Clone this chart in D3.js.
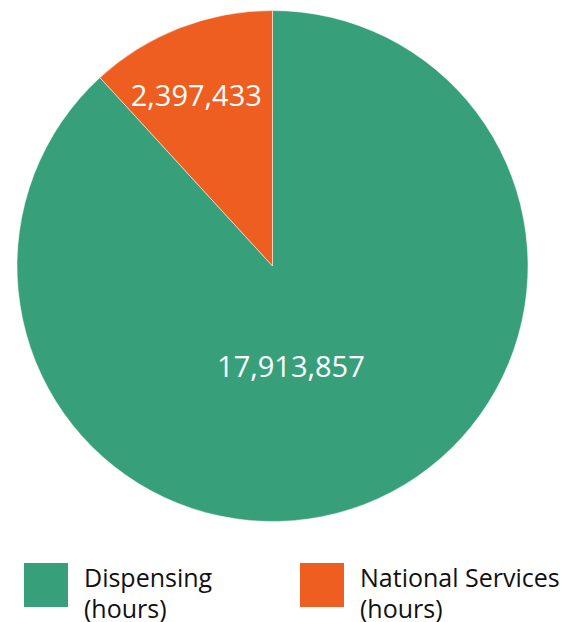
<!DOCTYPE html>
<html>
<head>
<meta charset="utf-8">
<script src="https://cdn.jsdelivr.net/npm/d3@7"></script>
<style>
  body { margin: 0; background: #fff; }
  svg text { font-family: "Open Sans", sans-serif; }
</style>
</head>
<body>
<script>
var categories = ["Dispensing", "National Services"];
var values = [17913857, 2397433];
var legendLines = [["Dispensing", "(hours)"], ["National Services", "(hours)"]];
var colors = ["#389f7b", "#ee5e21"];

var width = 574, height = 622;
var cx = 272.5, cy = 266, radius = 255.5;

var svg = d3.select("body").append("svg")
    .attr("width", width)
    .attr("height", height);

var pie = d3.pie().sort(null).value(d => d)(values);
var arc = d3.arc().innerRadius(0).outerRadius(radius);

var g = svg.append("g").attr("transform", `translate(${cx},${cy})`);

g.selectAll("path")
    .data(pie)
    .enter().append("path")
    .attr("d", arc)
    .attr("fill", (d, i) => colors[i])
    .attr("stroke", "#fff")
    .attr("stroke-width", 0.5);

// label placement (radius fraction and angle nudge per slice)
var labelR = [0.4, 0.73];
var labelNudge = [0.19, -0.05];

g.selectAll("text.val")
    .data(pie)
    .enter().append("text")
    .attr("class", "val")
    .attr("transform", (d, i) => {
        var a = (d.startAngle + d.endAngle) / 2 + labelNudge[i];
        var r = radius * labelR[i];
        return `translate(${r * Math.sin(a)},${-r * Math.cos(a)})`;
    })
    .attr("text-anchor", "middle")
    .attr("dy", "0.35em")
    .attr("fill", "#fff")
    .style("font-size", "29px")
    .text(d => d3.format(",")(d.data));

var legend = svg.append("g").selectAll("g")
    .data(categories)
    .enter().append("g")
    .attr("transform", (d, i) => `translate(${24 + i * 276},563)`);

legend.append("rect")
    .attr("width", 44)
    .attr("height", 44)
    .attr("fill", (d, i) => colors[i]);

legend.append("text")
    .attr("x", 60)
    .attr("y", 24)
    .attr("fill", "#111")
    .style("font-size", "25px")
    .selectAll("tspan")
    .data((d, i) => legendLines[i])
    .enter().append("tspan")
    .attr("x", 60)
    .attr("dy", (d, j) => j === 0 ? 0 : 31)
    .text(d => d);
</script>
</body>
</html>
